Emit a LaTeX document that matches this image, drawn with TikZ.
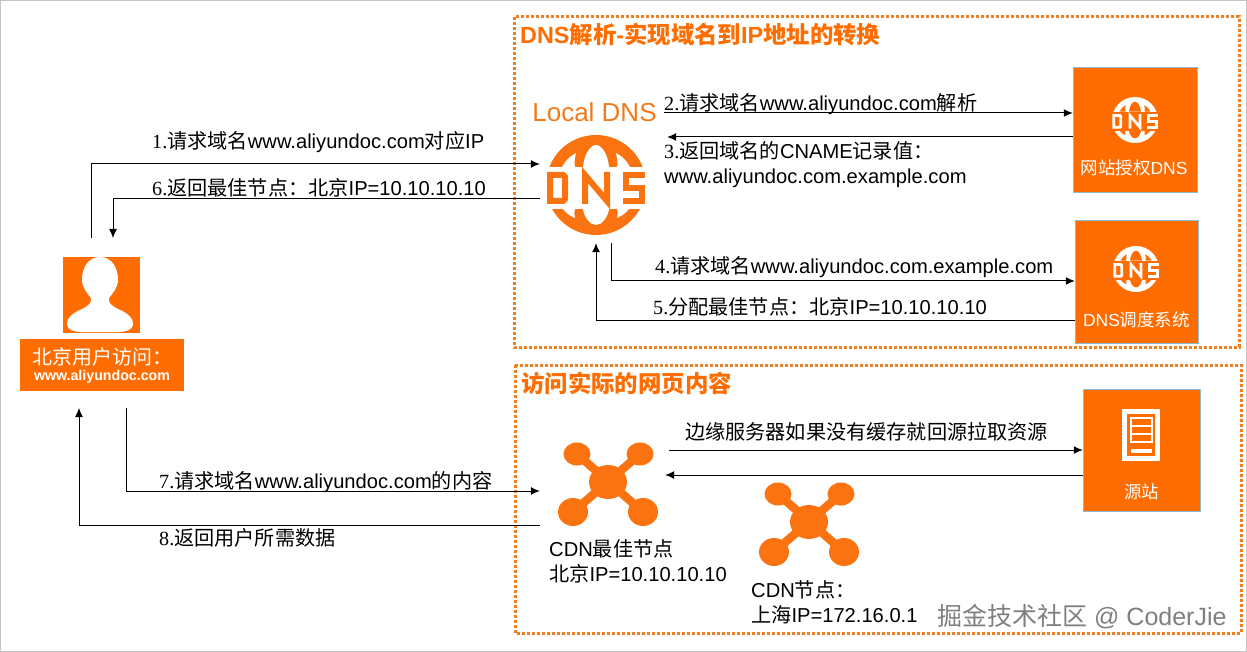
\documentclass[tikz,border=0pt]{standalone}
\usepackage{fontspec}
\setmainfont{Liberation Sans}
\newfontfamily\cjk{Noto Sans CJK SC}
\newfontfamily\numfont{Liberation Serif}
\usetikzlibrary{arrows.meta,positioning,calc}
\definecolor{BoxOrange}{HTML}{FF6D00}
\definecolor{DotOrange}{HTML}{F0801E}
\definecolor{IconOrange}{HTML}{FB7310}
\definecolor{TextOrange}{HTML}{F27A1A}
\definecolor{LineGrey}{HTML}{C4C4C4}
\definecolor{MarkGrey}{HTML}{7F7F7F}
\definecolor{EdgeBlue}{HTML}{8CBBD0}
\tikzset{
  conn/.style={line width=1pt,-{Latex[length=9pt,width=8pt]}},
  lbl/.style={anchor=west,inner sep=0pt,text=black,font=\fontsize{20.15}{25}\selectfont,align=left},
  grouptitle/.style={anchor=west,inner sep=0pt,text=BoxOrange,font=\fontsize{23.4}{28}\selectfont\bfseries},
  groupbox/.style={draw=DotOrange,line width=3pt,dash pattern=on 3pt off 2pt},
  orangebox/.style={fill=BoxOrange,inner sep=0pt,minimum width=#1},
  boxtext/.style={text=white,inner sep=0pt,font=\fontsize{17.5}{21}\selectfont},
  area/.style={inner sep=0pt,minimum width=#1}
}
% globe with DNS on it: x, y, radius, globe colour, colour behind
\newcommand{\dnsicon}[5]{
  \begin{scope}[shift={(#1,#2)},x=#3/50*1pt,y=-#3/50*1pt]
    \fill[#4] (0,0) circle [radius=50];
    \fill[#5] (-51,-18) rectangle (51,24);
    \fill[#5] (-13,-18) .. controls (-12,-30) and (-6,-40) .. (0,-40) .. controls (6,-40) and (12,-30) .. (13,-18) -- cycle;
    \fill[#5] (-34,-18) .. controls (-31,-24) and (-26,-29) .. (-20,-32) .. controls (-21,-27) and (-22,-23) .. (-21,-18) -- cycle;
    \fill[#5] (34,-18) .. controls (31,-24) and (26,-29) .. (20,-32) .. controls (21,-27) and (22,-23) .. (21,-18) -- cycle;
    \fill[#5] (-13,24) .. controls (-12,32) and (-6,40) .. (0,40) .. controls (6,40) and (12,32) .. (13,24) -- cycle;
    \fill[#5] (-33,24) .. controls (-30,28) and (-26,31) .. (-21,33) .. controls (-22,30) and (-22,27) .. (-21,24) -- cycle;
    \fill[#5] (33,24) .. controls (30,28) and (26,31) .. (21,33) .. controls (22,30) and (22,27) .. (21,24) -- cycle;
    \draw[#4,line width=#3/50*6pt] (-46,-10) -- (-33,-10) -- (-31,-8) -- (-31,14) -- (-33,16) -- (-46,16) -- cycle;
    \draw[#4,line width=#3/50*6pt] (-11,19) -- (-11,-10) -- (11,16) -- (11,-13);
    \draw[#4,line width=#3/50*6pt] (49,-10) -- (30,-10) -- (30,3) -- (46,3) -- (46,16) -- (27,16);
  \end{scope}
}
% network of five balls
\newcommand{\cdnicon}[2]{
  \begin{scope}[shift={(#1,#2)}]
    \draw[IconOrange,line width=8.5pt] (-31,-28) -- (35,30) (32,-28) -- (-35,30);
    \fill[IconOrange] (0,0) ellipse [x radius=19,y radius=17];
    \fill[IconOrange] (-31,-28) ellipse [x radius=13.5,y radius=11.5];
    \fill[IconOrange] (32,-28) ellipse [x radius=13.5,y radius=11.5];
    \fill[IconOrange] (-35,30) ellipse [x radius=15,y radius=14];
    \fill[IconOrange] (35,30) ellipse [x radius=15,y radius=14];
  \end{scope}
}
\begin{document}
\begin{tikzpicture}[x=1pt,y=-1pt]
  \useasboundingbox (0,0) rectangle (1247,652);
  \draw[LineGrey,line width=1pt] (0.5,0.5) rectangle (1246.5,651.5);
  % the two groups
  \draw[groupbox] (514,17) rectangle (1239,347);
  \draw[groupbox] (515,365) rectangle (1241,633);
  \node[grouptitle] (dnstitle) at (520,35) {DNS{\cjk 解析}-{\cjk 实现域名到}IP{\cjk 地址的转换}};
  \node[grouptitle] (webtitle) at (521,383) {{\cjk 访问实际的网页内容}};
  % user
  \node[orangebox=77pt,minimum height=76pt] (user) at (101.5,295) {};
  \fill[white] (100,257) .. controls (112,257) and (118,268) .. (118,280) .. controls (118,288) and (112,294) .. (109,298) .. controls (108,303) and (112,306) .. (118,309) .. controls (128,313) and (134,319) .. (133,325) .. controls (132,330) and (126,332) .. (118,332) -- (82,332) .. controls (74,332) and (68,330) .. (67,325) .. controls (66,319) and (72,313) .. (82,309) .. controls (88,306) and (92,303) .. (91,298) .. controls (88,294) and (82,288) .. (82,280) .. controls (82,268) and (88,257) .. (100,257) -- cycle;
  \node[orangebox=164pt,minimum height=52pt,text=white,align=center] (userlabel) at (102,365) {{\fontsize{20}{24}\selectfont\cjk 北京用户访问：}\\[3pt]{\fontsize{14.2}{17}\selectfont\bfseries www.aliyundoc.com}};
  \coordinate (userask) at (91,238);
  \coordinate (useranswer) at (113,238);
  \coordinate (userget) at (126,408);
  \coordinate (userdata) at (79,408);
  % local dns
  \node[area=112pt,minimum height=116pt] (localdns) at (596,185) {};
  \dnsicon{596}{185}{50}{IconOrange}{white}
  \node[inner sep=0pt,text=TextOrange,font=\fontsize{26}{30}\selectfont] (localname) at (594.5,112) {Local DNS};
  % dns servers
  \node[orangebox=124pt,minimum height=125pt,draw=EdgeBlue,line width=0.5pt] (authdns) at (1135,129.5) {};
  \dnsicon{1135}{120}{23}{white}{BoxOrange}
  \node[boxtext] (authname) at (1134,168) {{\cjk 网站授权}DNS};
  \node[orangebox=123pt,minimum height=123pt,draw=EdgeBlue,line width=0.5pt] (dispatch) at (1136.5,281.5) {};
  \dnsicon{1136}{269}{23}{white}{BoxOrange}
  \node[boxtext] (dispatchname) at (1136.5,320) {DNS{\cjk 调度系统}};
  % origin
  \node[orangebox=117pt,minimum height=122pt,draw=EdgeBlue,line width=0.5pt] (origin) at (1141.5,450) {};
  \draw[white,line width=5pt] (1124.5,411.5) rectangle (1157.5,458.5);
  \draw[white,line width=1.5pt] (1131,418) rectangle (1152,442) (1131,426) -- (1152,426) (1131,434) -- (1152,434);
  \fill[white] (1131,449) rectangle (1152,453);
  \node[boxtext] (originname) at (1141.5,492) {{\cjk 源站}};
  % cdn nodes
  \node[area=125pt,minimum height=90pt] (cdnbest) at (602.5,485) {};
  \cdnicon{608}{482}
  \cdnicon{809}{522}
  \node[lbl] (bestname) at (549,561.5) {CDN{\cjk 最佳节点}\\{\cjk 北京}IP=10.10.10.10};
  \node[lbl] (othername) at (751,602.5) {CDN{\cjk 节点：}\\{\cjk 上海}IP=172.16.0.1};
  % connectors
  \draw[conn] (userask) |- ([yshift=21pt]localdns.west);
  \draw[conn] ([yshift=-14pt]localdns.west) -| (useranswer);
  \draw[conn] ([xshift=12pt,yshift=72pt]localdns.east) -- ([yshift=16.5pt]authdns.west);
  \draw[conn] ([yshift=-7.5pt]authdns.west) -- ([xshift=15pt,yshift=48pt]localdns.east);
  \draw[conn] ([xshift=15pt]localdns.south) |- ([yshift=0.5pt]dispatch.west);
  \draw[conn] ([yshift=-38.5pt]dispatch.west) -| (localdns.south);
  \draw[conn] (userget) |- ([yshift=-6pt]cdnbest.west);
  \draw[conn] ([yshift=-40pt]cdnbest.west) -| (userdata);
  \draw[conn] ([xshift=4pt,yshift=35pt]cdnbest.east) -- (origin.west);
  \draw[conn] ([yshift=-25pt]origin.west) -- ([yshift=10pt]cdnbest.east);
  % connector labels
  \node[lbl] (ask) at (152,142) {{\numfont 1.}{\cjk 请求域名}www.aliyundoc.com{\cjk 对应}IP};
  \node[lbl] (askauth) at (664,104) {{\numfont 2.}{\cjk 请求域名}www.aliyundoc.com{\cjk 解析}};
  \node[lbl] (cname) at (664,164.5) {{\numfont 3.}{\cjk 返回域名的}CNAME{\cjk 记录值：}\\www.aliyundoc.com.example.com};
  \node[lbl] (askdispatch) at (655,267) {{\numfont 4.}{\cjk 请求域名}www.aliyundoc.com.example.com};
  \node[lbl] (bestip) at (653,307) {{\numfont 5.}{\cjk 分配最佳节点：北京}IP=10.10.10.10};
  \node[lbl] (answer) at (152,188) {{\numfont 6.}{\cjk 返回最佳节点：北京}IP=10.10.10.10};
  \node[lbl] (getpage) at (159,482) {{\numfont 7.}{\cjk 请求域名}www.aliyundoc.com{\cjk 的内容}};
  \node[lbl] (getdata) at (159,538) {{\numfont 8.}{\cjk 返回用户所需数据}};
  \node[lbl] (backsource) at (685,432) {{\cjk 边缘服务器如果没有缓存就回源拉取资源}};
  % watermark
  \node[anchor=west,inner sep=0pt,text=MarkGrey,font=\fontsize{25}{30}\selectfont] (mark) at (937,617) {{\cjk 掘金技术社区} @ CoderJie};
\end{tikzpicture}
\end{document}
